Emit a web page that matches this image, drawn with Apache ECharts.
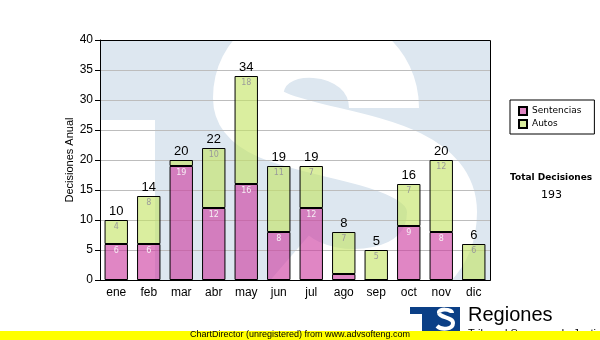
<!DOCTYPE html>
<html>
<head>
<meta charset="utf-8">
<style>
  html, body { margin: 0; padding: 0; background: #ffffff; }
  #chart { width: 600px; height: 340px; }
</style>
<script src="https://cdn.jsdelivr.net/npm/echarts@6/dist/echarts.min.js"></script>
</head>
<body>
<div id="chart"></div>
<script>
// Monthly decisions, split by type
const months = ['ene', 'feb', 'mar', 'abr', 'may', 'jun', 'jul', 'ago', 'sep', 'oct', 'nov', 'dic'];
const sentencias = [6, 6, 19, 12, 16, 8, 12, 1, 0, 9, 8, 0];
const autos = [4, 8, 1, 10, 18, 11, 7, 7, 5, 7, 12, 6];
const yTicks = [0, 5, 10, 15, 20, 25, 30, 35, 40];

const totals = months.map((_, i) => sentencias[i] + autos[i]);
const grandTotal = totals.reduce((a, b) => a + b, 0);

const chart = echarts.init(document.getElementById('chart'), null, { renderer: 'canvas' });

// plot area in pixels (used for the backdrop art and frame)
const PL = 100, PT = 40, PW = 390, PH = 240;

const smallLabel = (color) => ({
  show: true,
  position: 'insideTop',
  distance: 3,
  fontFamily: 'DejaVu Sans',
  fontSize: 8,
  color: color,
  formatter: (p) => (p.value >= 2 ? String(p.value) : '')
});

// one cubic stroke segment: [x1,y1, cp1x,cp1y, cp2x,cp2y, x2,y2]
function curve(seg, width, color, z) {
  return {
    type: 'bezierCurve', z: z, silent: true,
    shape: { x1: seg[0], y1: seg[1], cpx1: seg[2], cpy1: seg[3], cpx2: seg[4], cpy2: seg[5], x2: seg[6], y2: seg[7] },
    style: { fill: null, stroke: color, lineWidth: width, lineCap: 'butt' }
  };
}

// big pale "S" of the backdrop emblem
const bigS = [
  [384, 108, 384, 28, 248, 18, 248, 98],
  [248, 98, 248, 152, 442, 132, 442, 212],
  [442, 212, 442, 292, 330, 300, 286, 262]
];
// small "S" of the footer emblem
const smallS = [
  [452, 313, 452, 309, 438, 308, 439, 313],
  [439, 313, 440, 318, 453, 317, 453, 323],
  [453, 323, 453, 330, 441, 330, 437, 326]
];

const option = {
  backgroundColor: '#ffffff',
  animation: false,
  grid: { left: PL, top: PT, width: PW, height: PH, containLabel: false },
  legend: {
    data: ['Sentencias', 'Autos'],
    orient: 'vertical',
    left: 510,
    top: 100,
    padding: [6, 13, 5, 8],
    itemGap: 3,
    itemWidth: 8,
    itemHeight: 8,
    borderColor: '#000000',
    borderWidth: 1,
    borderRadius: 0,
    icon: 'rect',
    textStyle: { fontFamily: 'DejaVu Sans', fontSize: 9, color: '#000000' }
  },
  xAxis: {
    type: 'category',
    data: months,
    z: 3,
    axisLine: { lineStyle: { color: '#000000', width: 1 } },
    axisTick: { alignWithLabel: true, length: 4, lineStyle: { color: '#000000' } },
    axisLabel: { margin: 7, fontFamily: 'Liberation Sans', fontSize: 12, color: '#000000' },
    splitLine: { show: false }
  },
  yAxis: {
    type: 'value',
    min: yTicks[0],
    max: yTicks[yTicks.length - 1],
    interval: yTicks[1] - yTicks[0],
    z: 3,
    name: 'Decisiones Anual',
    nameLocation: 'middle',
    nameGap: 25,
    nameMoveOverlap: false,
    nameTextStyle: { fontFamily: 'Liberation Sans', fontSize: 11, color: '#000000' },
    axisLine: { show: true, lineStyle: { color: '#000000', width: 1 } },
    axisTick: { show: true, length: 5, lineStyle: { color: '#000000' } },
    axisLabel: { margin: 7, fontFamily: 'Liberation Sans', fontSize: 12, color: '#000000' },
    splitLine: { lineStyle: { color: '#bdbdbd', width: 1 } }
  },
  series: [
    {
      name: 'Sentencias',
      type: 'bar',
      stack: 'dec',
      barWidth: '72%',
      z: 5,
      data: sentencias,
      itemStyle: { color: 'rgba(205, 60, 160, 0.62)', borderColor: '#000000', borderWidth: 1 },
      label: smallLabel('#f6eef4')
    },
    {
      name: 'Autos',
      type: 'bar',
      stack: 'dec',
      barWidth: '72%',
      z: 5,
      data: autos,
      itemStyle: { color: 'rgba(196, 228, 100, 0.62)', borderColor: '#000000', borderWidth: 1 },
      label: smallLabel('#9a9a9a')
    },
    {
      // zero-height cap that carries the monthly total label
      name: 'Total',
      type: 'bar',
      stack: 'dec',
      barWidth: '72%',
      z: 6,
      data: totals.map(() => 0),
      itemStyle: { color: 'rgba(0,0,0,0)', borderWidth: 0 },
      label: {
        show: true,
        position: 'top',
        distance: 2,
        fontFamily: 'Liberation Sans',
        fontSize: 13,
        color: '#000000',
        formatter: (p) => String(totals[p.dataIndex])
      }
    }
  ],
  graphic: [
    // pale "TS" emblem behind the bars
    { type: 'rect', z: -10, silent: true, shape: { x: PL, y: PT, width: PW, height: PH }, style: { fill: '#dde7f0' } },
    { type: 'rect', z: -9, silent: true, shape: { x: PL, y: 120, width: 55, height: 160 }, style: { fill: '#ffffff' } },
    ...bigS.map((s) => curve(s, 70, '#ffffff', -9)),
    // cover spill of the emblem outside the plot area
    { type: 'rect', z: -8, silent: true, shape: { x: 0, y: 0, width: 600, height: PT }, style: { fill: '#ffffff' } },
    { type: 'rect', z: -8, silent: true, shape: { x: PL + PW, y: 0, width: 110, height: 340 }, style: { fill: '#ffffff' } },
    { type: 'rect', z: -8, silent: true, shape: { x: 0, y: PT + PH, width: 600, height: 60 }, style: { fill: '#ffffff' } },
    // plot frame
    { type: 'rect', z: 20, silent: true, shape: { x: PL + 0.5, y: PT + 0.5, width: PW, height: PH }, style: { fill: null, stroke: '#000000', lineWidth: 1 } },

    // total text beside the legend
    { type: 'text', z: 20, left: 510, top: 173, style: { text: 'Total Decisiones', fontFamily: 'DejaVu Sans', fontSize: 9, fontWeight: 'bold', fill: '#000000' } },
    { type: 'text', z: 20, left: 541, top: 190, style: { text: String(grandTotal), fontFamily: 'DejaVu Sans', fontSize: 11, fill: '#000000' } },

    // footer emblem
    { type: 'rect', z: 20, silent: true, shape: { x: 410, y: 307, width: 50, height: 25 }, style: { fill: '#0b3f86' } },
    { type: 'rect', z: 21, silent: true, shape: { x: 410, y: 314, width: 12, height: 18 }, style: { fill: '#ffffff' } },
    ...smallS.map((s) => curve(s, 4, '#ffffff', 21)),
    { type: 'text', z: 21, left: 468, top: 305, style: { text: 'Regiones', fontFamily: 'Liberation Sans', fontSize: 20, fill: '#000000' } },
    { type: 'text', z: 21, left: 468, top: 328, style: { text: 'Tribunal Supremo de Justicia', fontFamily: 'Liberation Sans', fontSize: 11, fill: '#000000' } },

    // library banner
    { type: 'rect', z: 30, silent: true, shape: { x: 0, y: 331, width: 600, height: 9 }, style: { fill: '#ffff00' } },
    { type: 'text', z: 31, left: 190, top: 330, style: { text: 'ChartDirector (unregistered) from www.advsofteng.com', fontFamily: 'Liberation Sans', fontSize: 9, fill: '#000000' } }
  ]
};

chart.setOption(option);
</script>
</body>
</html>
